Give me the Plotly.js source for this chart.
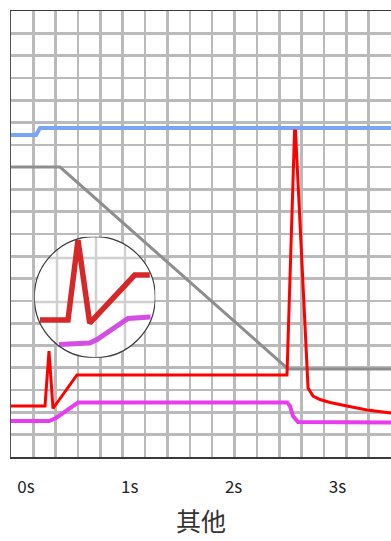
<!DOCTYPE html>
<html><head><meta charset="utf-8">
<script src="https://cdn.plot.ly/plotly-3.0.1.min.js"></script>
<style>html,body{margin:0;padding:0;background:#fff;} #chart{width:391px;height:541px;}</style>
</head><body><div id="chart"></div>
<script>
// ---- data ----
const tickVals = [0, 1, 2, 3];
const tickText = ['0s', '1s', '2s', '3s'];
const xTitle = '其他';

const blueT = [-0.2, 0.096, 0.135, 3.6];
const blueV = [14.44, 14.44, 14.75, 14.75];

const grayT = [-0.2, 0.328, 2.524, 3.6];
const grayV = [13.0, 13.0, 3.95, 3.95];

const redT = [-0.2, 0.183, 0.2216, 0.260, 0.491, 2.514, 2.587, 2.596, 2.717, 2.765, 2.832, 2.929, 3.092, 3.285, 3.516, 3.603];
const redV = [2.287, 2.287, 4.753, 2.175, 3.677, 3.677, 14.62, 14.62, 3.094, 2.735, 2.578, 2.444, 2.287, 2.108, 1.973, 1.928];

const magT = [-0.2, 0.2216, 0.289, 0.424, 0.501, 2.514, 2.543, 2.572, 2.620, 3.603];
const magV = [1.614, 1.614, 1.749, 2.197, 2.444, 2.444, 2.287, 1.839, 1.570, 1.547];

// magnified inset (read from the circle)
const insRedT = [0.0498, 0.1715, 0.215, 0.2659, 0.4615, 0.527];
const insRedV = [2.322, 2.322, 4.806, 2.229, 3.719, 3.719];
const insMagT = [0.1324, 0.2659, 0.2976, 0.3976, 0.4324, 0.5302];
const insMagV = [1.561, 1.608, 1.716, 2.228, 2.368, 2.415];
const insGridT = [0.1237, 0.2933, 0.4193];
const insGridV = [2.881, 4.247];

// ---- layout helpers ----
const X_RANGE = [-0.1445, 3.516];
const INS_X = [0.025, 0.551];
const INS_Y = [1.151, 4.909];
const cx = (INS_X[0] + INS_X[1]) / 2, rx = (INS_X[1] - INS_X[0]) / 2;
const cy = (INS_Y[0] + INS_Y[1]) / 2, ry = (INS_Y[1] - INS_Y[0]) / 2;

const shapes = [{
  type: 'circle', xref: 'x3', yref: 'y3', layer: 'below',
  x0: INS_X[0], x1: INS_X[1], y0: INS_Y[0], y1: INS_Y[1],
  fillcolor: '#ffffff', line: {width: 0}
}];
const gridLine = {color: '#d0d0d0', width: 2.5};
insGridT.forEach(t => {
  const h = ry * Math.sqrt(Math.max(0, 1 - Math.pow((t - cx) / rx, 2)));
  shapes.push({type: 'line', xref: 'x3', yref: 'y3', layer: 'below', x0: t, x1: t, y0: cy - h, y1: cy + h, line: gridLine});
});
insGridV.forEach(v => {
  const w = rx * Math.sqrt(Math.max(0, 1 - Math.pow((v - cy) / ry, 2)));
  shapes.push({type: 'line', xref: 'x3', yref: 'y3', layer: 'below', x0: cx - w, x1: cx + w, y0: v, y1: v, line: gridLine});
});
shapes.push({
  type: 'circle', xref: 'x3', yref: 'y3', layer: 'above',
  x0: INS_X[0], x1: INS_X[1], y0: INS_Y[0], y1: INS_Y[1],
  fillcolor: 'rgba(0,0,0,0)', line: {color: '#3a3a3a', width: 1.2}
});

const traces = [
  {x: [0], y: [0], xaxis: 'x2', yaxis: 'y', mode: 'markers', marker: {opacity: 0}, hoverinfo: 'skip'},
  {x: blueT, y: blueV, mode: 'lines', line: {color: '#78a6f2', width: 4}, hoverinfo: 'skip'},
  {x: grayT, y: grayV, mode: 'lines', line: {color: '#8e8e8e', width: 3}, hoverinfo: 'skip'},
  {x: magT, y: magV, mode: 'lines', line: {color: '#e83cf0', width: 4}, hoverinfo: 'skip'},
  {x: redT, y: redV, mode: 'lines', line: {color: '#ff0000', width: 3}, hoverinfo: 'skip'},
  {x: insMagT, y: insMagV, xaxis: 'x3', yaxis: 'y3', mode: 'lines', line: {color: '#cf3fe0', width: 5}, opacity: 0.92, hoverinfo: 'skip'},
  {x: insRedT, y: insRedV, xaxis: 'x3', yaxis: 'y3', mode: 'lines', line: {color: '#d41c1c', width: 5.5}, opacity: 0.95, hoverinfo: 'skip'}
];

const layout = {
  width: 391, height: 541,
  margin: {l: 11, r: 0, t: 11, b: 84},
  paper_bgcolor: '#ffffff', plot_bgcolor: 'rgba(0,0,0,0)',
  showlegend: false,
  xaxis: {
    range: X_RANGE, tickmode: 'array', tickvals: tickVals, ticktext: tickText,
    showgrid: false, zeroline: false, showline: true, mirror: true,
    linecolor: '#3a3a3a', linewidth: 1.5,
    ticks: 'outside', ticklen: 14, tickcolor: 'rgba(0,0,0,0)',
    tickfont: {family: 'Noto Sans CJK SC', size: 17, color: '#222'},
    title: {text: xTitle, font: {family: 'Noto Sans CJK SC', size: 25, color: '#333'}, standoff: 16},
    fixedrange: true
  },
  xaxis2: {
    overlaying: 'x', anchor: 'y', range: X_RANGE, tickmode: 'linear', tick0: -0.1445, dtick: 0.2153,
    showgrid: true, gridcolor: '#bababa', gridwidth: 2.6, showticklabels: false, ticks: '',
    zeroline: false, showline: false, fixedrange: true
  },
  yaxis: {
    range: [0, 20], tickmode: 'linear', tick0: 0, dtick: 1,
    showgrid: true, gridcolor: '#bababa', gridwidth: 2.6, showticklabels: false, ticks: '',
    zeroline: false, showline: true, linecolor: '#555', linewidth: 1.5, fixedrange: true
  },
  xaxis3: {domain: [0.0613, 0.3797], anchor: 'y3', range: INS_X, visible: false, fixedrange: true},
  yaxis3: {domain: [0.2226, 0.4939], anchor: 'x3', range: INS_Y, visible: false, fixedrange: true},
  shapes: shapes
};

Plotly.newPlot('chart', traces, layout, {displayModeBar: false, staticPlot: true});
</script>
</body></html>
